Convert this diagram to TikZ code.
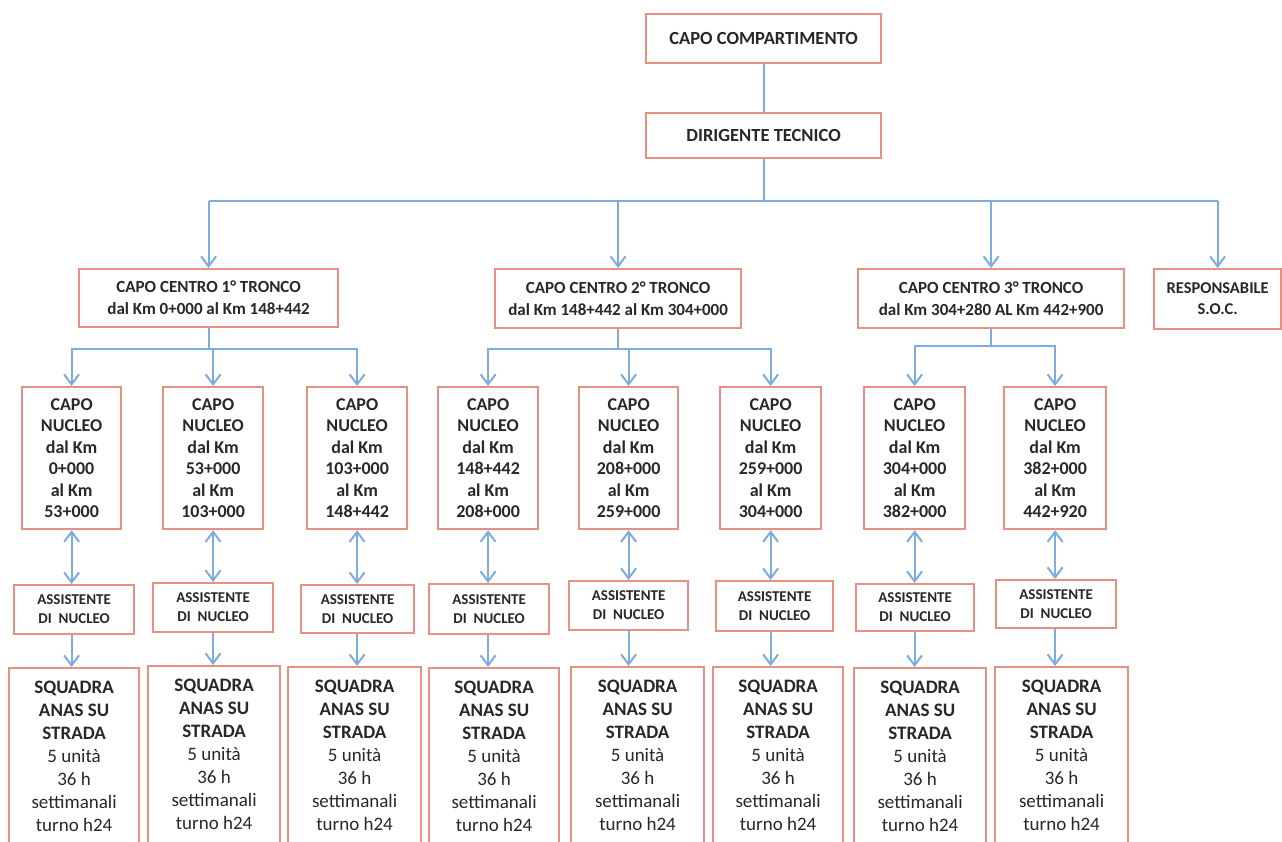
\documentclass[tikz,border=0pt]{standalone}
\usepackage{fontspec}
\setmainfont{Carlito}
\usetikzlibrary{arrows.meta}

\definecolor{boxred}{RGB}{230,145,130}
\definecolor{linkblue}{RGB}{125,172,222}
\definecolor{inkgray}{RGB}{40,40,40}

\newcommand{\squadratxt}{\textbf{SQUADRA}\\\textbf{ANAS SU}\\\textbf{STRADA}\\5 unità\\36 h\\settimanali\\turno h24\\\mbox{}}

\tikzset{
  box/.style={draw=boxred, line width=2.2pt, fill=white, align=center, inner sep=0pt, anchor=north west, text=inkgray},
  topbox/.style={box, font=\fontsize{18.5}{22}\selectfont\bfseries},
  ccbox/.style={box, font=\fontsize{17}{22}\selectfont\bfseries},
  nucbox/.style={box, font=\fontsize{18}{21.5}\selectfont\bfseries, minimum height=142pt},
  assbox/.style={box, font=\fontsize{15}{19}\selectfont\bfseries},
  sqbox/.style={box, font=\fontsize{19}{23}\selectfont, minimum height=200pt},
  link/.style={draw=linkblue, line width=2pt},
  arr/.style={link, -{Straight Barb[length=10pt,width=15pt]}},
  darr/.style={link, {Straight Barb[length=10pt,width=15pt]}-{Straight Barb[length=10pt,width=15pt]}}
}

\begin{document}
\begin{tikzpicture}[x=1pt, y=-1pt]
    \useasboundingbox (0,0) rectangle (1282,841);
    \clip (0,0) rectangle (1282,841);
    \fill[white] (0,0) rectangle (1282,841);

    % vertici
    \node[topbox, minimum width=235pt, minimum height=49pt] (cap) at (645,13) {CAPO COMPARTIMENTO};
    \node[topbox, minimum width=235pt, minimum height=45pt] (dt) at (645,112) {DIRIGENTE TECNICO};

    % centri
    \node[ccbox, minimum width=259pt, minimum height=58pt] (cc1) at (78,268) {CAPO CENTRO 1° TRONCO\\dal Km 0+000 al Km 148+442};
    \node[ccbox, minimum width=246pt, minimum height=59pt] (cc2) at (494,268) {CAPO CENTRO 2° TRONCO\\dal Km 148+442 al Km 304+000};
    \node[ccbox, minimum width=266pt, minimum height=59pt] (cc3) at (857,268) {CAPO CENTRO 3° TRONCO\\dal Km 304+280 AL Km 442+900};
    \node[ccbox, font=\fontsize{16.5}{21}\selectfont\bfseries, minimum width=127pt, minimum height=60pt] (soc) at (1153,268) {RESPONSABILE\\S.O.C.};

    % nuclei
    \node[nucbox, minimum width=99pt] (n1) at (21,386) {CAPO\\NUCLEO\\dal Km\\0+000\\al Km\\53+000};
    \node[nucbox, minimum width=100pt] (n2) at (162,386) {CAPO\\NUCLEO\\dal Km\\53+000\\al Km\\103+000};
    \node[nucbox, minimum width=100pt] (n3) at (306,386) {CAPO\\NUCLEO\\dal Km\\103+000\\al Km\\148+442};
    \node[nucbox, minimum width=100pt] (n4) at (437,386) {CAPO\\NUCLEO\\dal Km\\148+442\\al Km\\208+000};
    \node[nucbox, minimum width=99pt] (n5) at (578,386) {CAPO\\NUCLEO\\dal Km\\208+000\\al Km\\259+000};
    \node[nucbox, minimum width=101pt] (n6) at (719,386) {CAPO\\NUCLEO\\dal Km\\259+000\\al Km\\304+000};
    \node[nucbox, minimum width=101pt] (n7) at (863,386) {CAPO\\NUCLEO\\dal Km\\304+000\\al Km\\382+000};
    \node[nucbox, minimum width=102pt] (n8) at (1003,386) {CAPO\\NUCLEO\\dal Km\\382+000\\al Km\\442+920};

    % assistenti
    \node[assbox, minimum width=120pt, minimum height=49pt] (a1) at (13,584) {ASSISTENTE\\DI\ \ NUCLEO};
    \node[assbox, minimum width=120pt, minimum height=49pt] (a2) at (152,582) {ASSISTENTE\\DI\ \ NUCLEO};
    \node[assbox, minimum width=113pt, minimum height=48pt] (a3) at (300,584) {ASSISTENTE\\DI\ \ NUCLEO};
    \node[assbox, minimum width=120pt, minimum height=50pt] (a4) at (428,583) {ASSISTENTE\\DI\ \ NUCLEO};
    \node[assbox, minimum width=119pt, minimum height=49pt] (a5) at (568,580) {ASSISTENTE\\DI\ \ NUCLEO};
    \node[assbox, minimum width=117pt, minimum height=50pt] (a6) at (715,580) {ASSISTENTE\\DI\ \ NUCLEO};
    \node[assbox, minimum width=118pt, minimum height=47pt] (a7) at (855,583) {ASSISTENTE\\DI\ \ NUCLEO};
    \node[assbox, minimum width=120pt, minimum height=48pt] (a8) at (995,579) {ASSISTENTE\\DI\ \ NUCLEO};

    % squadre
    \node[sqbox, minimum width=130pt] (s1) at (8,667) {\squadratxt};
    \node[sqbox, minimum width=132pt] (s2) at (147,665) {\squadratxt};
    \node[sqbox, minimum width=133pt] (s3) at (287,666) {\squadratxt};
    \node[sqbox, minimum width=130pt] (s4) at (428,667) {\squadratxt};
    \node[sqbox, minimum width=133pt] (s5) at (570,666) {\squadratxt};
    \node[sqbox, minimum width=130pt] (s6) at (712,666) {\squadratxt};
    \node[sqbox, minimum width=132pt] (s7) at (853,667) {\squadratxt};
    \node[sqbox, minimum width=133pt] (s8) at (994,666) {\squadratxt};

    % collegamenti alti
    \draw[link] (cap) -- (dt);
    \draw[link] (dt.south) -- ++(0,42) coordinate (bus);
    \draw[link] (bus -| cc1.north) -- (bus -| soc.north);
    \draw[arr] (bus -| cc1.north) -- (cc1.north);
    \draw[arr] (bus -| cc2.north) -- (cc2.north);
    \draw[arr] (bus -| cc3.north) -- (cc3.north);
    \draw[arr] (bus -| soc.north) -- (soc.north);

    % centri -> nuclei
    \draw[link] (cc1.south) -- ++(0,21) coordinate (j1);
    \draw[arr] (j1) -| (n1.north);
    \draw[arr] (j1) -| (n2.north);
    \draw[arr] (j1) -| (n3.north);
    \draw[link] (cc2.south) -- ++(0,20) coordinate (j2);
    \draw[arr] (j2) -| (n4.north);
    \draw[arr] (j2) -| (n5.north);
    \draw[arr] (j2) -| (n6.north);
    \draw[link] (cc3.south) -- ++(0,17) coordinate (j3);
    \draw[arr] (j3) -| (n7.north);
    \draw[arr] (j3) -| (n8.north);

    % nuclei <-> assistenti -> squadre
    \draw[darr] (n1.south) -- (n1.south |- a1.north);
    \draw[darr] (n2.south) -- (n2.south |- a2.north);
    \draw[darr] (n3.south) -- (n3.south |- a3.north);
    \draw[darr] (n4.south) -- (n4.south |- a4.north);
    \draw[darr] (n5.south) -- (n5.south |- a5.north);
    \draw[darr] (n6.south) -- (n6.south |- a6.north);
    \draw[darr] (n7.south) -- (n7.south |- a7.north);
    \draw[darr] (n8.south) -- (n8.south |- a8.north);

    \draw[arr] (n1.south |- a1.south) -- (n1.south |- s1.north);
    \draw[arr] (n2.south |- a2.south) -- (n2.south |- s2.north);
    \draw[arr] (n3.south |- a3.south) -- (n3.south |- s3.north);
    \draw[arr] (n4.south |- a4.south) -- (n4.south |- s4.north);
    \draw[arr] (n5.south |- a5.south) -- (n5.south |- s5.north);
    \draw[arr] (n6.south |- a6.south) -- (n6.south |- s6.north);
    \draw[arr] (n7.south |- a7.south) -- (n7.south |- s7.north);
    \draw[arr] (n8.south |- a8.south) -- (n8.south |- s8.north);
\end{tikzpicture}
\end{document}
